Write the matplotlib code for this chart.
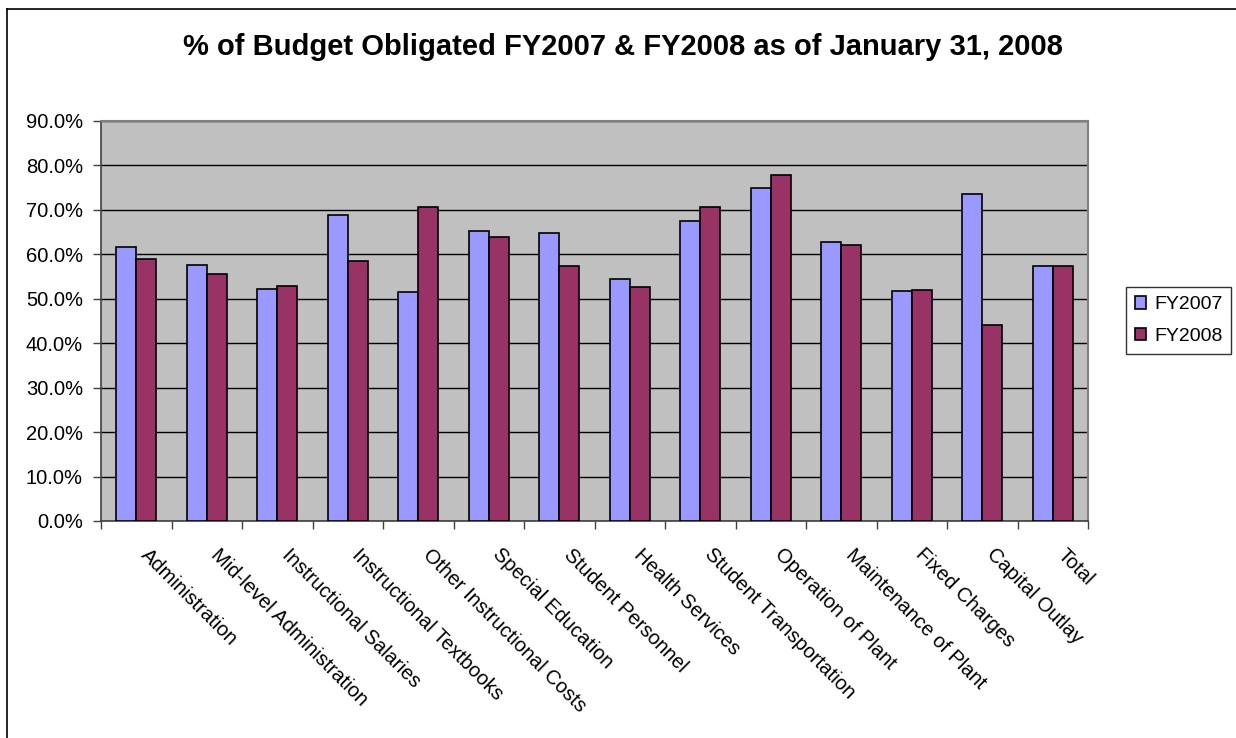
import matplotlib
matplotlib.use("Agg")
import matplotlib.pyplot as plt
import numpy as np
from matplotlib.transforms import blended_transform_factory, ScaledTranslation
from matplotlib.lines import Line2D

plt.rcParams['font.family'] = ['Liberation Sans', 'DejaVu Sans']

categories = ["Administration", "Mid-level Administration", "Instructional Salaries",
              "Instructional Textbooks", "Other Instructional Costs", "Special Education",
              "Student Personnel", "Health Services", "Student Transportation",
              "Operation of Plant", "Maintenance of Plant", "Fixed Charges",
              "Capital Outlay", "Total"]
fy2007 = [61.7, 57.7, 52.3, 68.8, 51.6, 65.2, 64.9, 54.4, 67.4, 75.0, 62.7, 51.7, 73.5, 57.4]
fy2008 = [58.9, 55.6, 52.8, 58.5, 70.6, 63.8, 57.4, 52.7, 70.6, 77.9, 62.0, 52.0, 44.1, 57.4]
series_names = ["FY2007", "FY2008"]
yticks = [0, 10, 20, 30, 40, 50, 60, 70, 80, 90]
title = "% of Budget Obligated FY2007 & FY2008 as of January 31, 2008"

W, H = 1236, 738
fig = plt.figure(figsize=(W / 100, H / 100), dpi=100)
ax = fig.add_axes([101 / W, 1 - 521 / H, (1088 - 101) / W, (521 - 121) / H])
ax.set_facecolor('#C0C0C0')

x = np.arange(len(categories))
w = 0.2857
b1 = ax.bar(x - w / 2, fy2007, w, color='#9999FF', edgecolor='black', linewidth=1.2,
            label=series_names[0], zorder=3)
b2 = ax.bar(x + w / 2, fy2008, w, color='#993366', edgecolor='black', linewidth=1.2,
            label=series_names[1], zorder=3)

ax.set_xlim(-0.5, len(categories) - 0.5)
ax.set_ylim(0, 90)
ax.set_yticks(yticks)
ax.set_yticklabels([f"{v:.1f}%" for v in yticks], fontsize=14.5)
ax.yaxis.grid(True, color='black', linewidth=1, zorder=0)
ax.set_axisbelow(True)
ax.tick_params(axis='y', direction='out', length=6, width=1, pad=7, color='#404040')

ax.set_xticks(np.arange(-0.5, len(categories), 1.0))
ax.set_xticklabels([])
ax.tick_params(axis='x', direction='out', length=6, width=1, color='#404040')

for s in ['top', 'right']:
    ax.spines[s].set_color('#808080')
    ax.spines[s].set_linewidth(1.5)
for s in ['left', 'bottom']:
    ax.spines[s].set_color('#404040')
    ax.spines[s].set_linewidth(1.2)

trans = blended_transform_factory(ax.transData, ax.transAxes)
for i, c in enumerate(categories):
    t = trans + ScaledTranslation(14 / 100, -24 / 100, fig.dpi_scale_trans)
    ax.text(i, 0, c, transform=t, rotation=-45, rotation_mode='anchor',
            ha='left', va='top', fontsize=14.5)

fig.text(0.504, 1 - 47 / H, title, ha='center', va='center', fontsize=21, fontweight='bold')

leg = fig.legend(handles=[b1, b2], labels=series_names, loc='center',
                 bbox_to_anchor=(1178.5 / W, 1 - 320.5 / H), fontsize=14,
                 frameon=True, fancybox=False, edgecolor='black',
                 handlelength=0.6, handleheight=0.6, handletextpad=0.4,
                 borderpad=0.45, labelspacing=0.75, borderaxespad=0)
leg.get_frame().set_linewidth(1)

fig.add_artist(Line2D([7 / W, 7 / W], [0, 1 - 9 / H], color='black', linewidth=1.2,
                      transform=fig.transFigure))
fig.add_artist(Line2D([7 / W, 1], [1 - 9 / H, 1 - 9 / H], color='black', linewidth=1.2,
                      transform=fig.transFigure))

fig.savefig('out.png', dpi=100)
